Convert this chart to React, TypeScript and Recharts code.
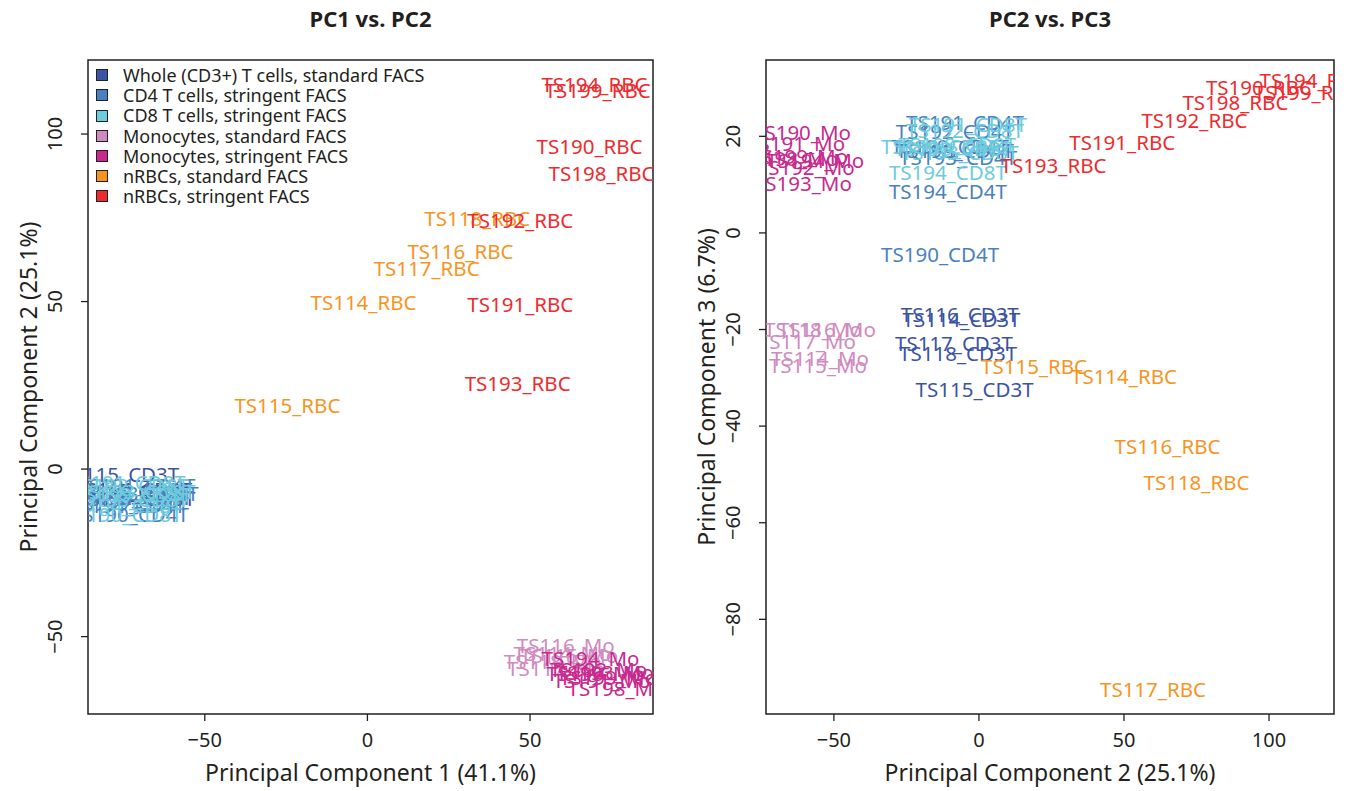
import React from 'react';
import { ScatterChart, Scatter, XAxis, YAxis, ReferenceArea, Label } from 'recharts';

const FONT = '"Noto Sans", "Open Sans", sans-serif';
const INK = '#231f20';

const groupLabels = [
  'Whole (CD3+) T cells, standard FACS',
  'CD4 T cells, stringent FACS',
  'CD8 T cells, stringent FACS',
  'Monocytes, standard FACS',
  'Monocytes, stringent FACS',
  'nRBCs, standard FACS',
  'nRBCs, stringent FACS',
];
const groupColors = ['#3a53a4', '#4a80c2', '#6ccbdd', '#d08ac0', '#c8298e', '#f7941e', '#ee2a2e'];

const sampleNames = [
  'TS114_CD3T', 'TS115_CD3T', 'TS116_CD3T', 'TS117_CD3T', 'TS118_CD3T',
  'TS190_CD4T', 'TS191_CD4T', 'TS192_CD4T', 'TS193_CD4T', 'TS194_CD4T', 'TS198_CD4T', 'TS199_CD4T',
  'TS190_CD8T', 'TS191_CD8T', 'TS192_CD8T', 'TS193_CD8T', 'TS194_CD8T', 'TS198_CD8T', 'TS199_CD8T',
  'TS114_Mo', 'TS115_Mo', 'TS116_Mo', 'TS117_Mo', 'TS118_Mo',
  'TS190_Mo', 'TS191_Mo', 'TS192_Mo', 'TS193_Mo', 'TS194_Mo', 'TS198_Mo', 'TS199_Mo',
  'TS114_RBC', 'TS115_RBC', 'TS116_RBC', 'TS117_RBC', 'TS118_RBC',
  'TS190_RBC', 'TS191_RBC', 'TS192_RBC', 'TS193_RBC', 'TS194_RBC', 'TS198_RBC', 'TS199_RBC',
];
const sampleGroups = [
  0, 0, 0, 0, 0,
  1, 1, 1, 1, 1, 1, 1,
  2, 2, 2, 2, 2, 2, 2,
  3, 3, 3, 3, 3,
  4, 4, 4, 4, 4, 4, 4,
  5, 5, 5, 5, 5,
  6, 6, 6, 6, 6, 6, 6,
];
const pc1 = [
  -72, -76, -73, -71, -72,
  -73, -71, -72, -70, -74, -72, -73,
  -75, -74, -73, -71, -75, -73, -72,
  60, 62, 61, 58, 57,
  70, 72, 71, 73, 68.6, 76.6, 74,
  -1.2, -24.6, 28.6, 18.2, 33.8,
  68.3, 47, 47, 46.2, 69.8, 72, 70.8,
];
const pc2 = [
  -6, -1.5, -6.6, -8.6, -7.2,
  -13.4, -4.8, -8.3, -7.2, -10.7, -8.3, -10,
  -13.4, -3.8, -4.8, -6.6, -10.7, -9, -7.5,
  -54.8, -55.5, -52.4, -59.3, -57.2,
  -61, -63, -59.7, -60.7, -56.4, -65.4, -62,
  50, 19, 65, 60, 75,
  96.5, 49.4, 74.3, 25.7, 115, 88.4, 113,
];
const pc3 = [
  -17.8, -32.3, -16.8, -22.8, -24.8,
  -4.3, 23.0, 21.1, 15.7, 8.7, 17.2, 18,
  18, 22.6, 21.3, 16.8, 12.6, 17.5, 18.5,
  -25.9, -27.3, -19.9, -22.4, -19.9,
  20.9, 18.6, 13.7, 10.4, 15, 15.5, 16,
  -29.6, -27.5, -44.1, -94.4, -51.5,
  30.2, 18.8, 23.4, 14.1, 31.7, 27.1, 29.2,
];

const fmt = (v: number) => (v < 0 ? `\u2212${Math.abs(v)}` : `${v}`);

const buildGroups = (xs: number[], ys: number[]) =>
  groupLabels.map((_, g) =>
    sampleNames
      .map((name, i) => ({ name, x: xs[i], y: ys[i], g: sampleGroups[i] }))
      .filter((d) => d.g === g)
  );

const NameMark = (props: any) => {
  const { cx, cy, payload, color } = props;
  return (
    <text x={cx} y={cy} textAnchor="middle" dominantBaseline="central" fill={color} fontSize={20.5} fontFamily={FONT}>
      {payload.name}
    </text>
  );
};

const YTick = (props: any) => {
  const { x, y, payload } = props;
  const tx = x - 24;
  return (
    <text x={tx} y={y} transform={`rotate(-90, ${tx}, ${y})`} textAnchor="middle" dominantBaseline="central" fill={INK} fontSize={20} fontFamily={FONT}>
      {fmt(payload.value)}
    </text>
  );
};

const Legend7 = () => (
  <div style={{ position: 'absolute', left: 96, top: 65, fontFamily: FONT, fontSize: 18, lineHeight: '20.2px', color: INK }}>
    {groupLabels.map((lab, i) => (
      <div key={lab} style={{ display: 'flex', alignItems: 'center', whiteSpace: 'nowrap' }}>
        <span style={{ display: 'inline-block', width: 10, height: 10, background: groupColors[i], border: '1px solid #222', marginRight: 15 }} />
        {lab}
      </div>
    ))}
  </div>
);

interface PanelProps {
  title: string;
  left: number;
  width: number;
  marginLeft: number;
  marginRight: number;
  xs: number[];
  ys: number[];
  xDomain: [number, number];
  yDomain: [number, number];
  xTicks: number[];
  yTicks: number[];
  xLabel: string;
  yLabel: string;
  legend?: boolean;
}

const H = 791;
const TOP = 60;
const BOTTOM = 77;

const Panel: React.FC<PanelProps> = (p) => {
  const groups = buildGroups(p.xs, p.ys);
  const plotLeft = p.marginLeft + 60;
  const plotW = p.width - plotLeft - p.marginRight;
  return (
    <div style={{ position: 'absolute', left: p.left, top: 0, width: p.width, height: H }}>
      <div
        style={{
          position: 'absolute', left: plotLeft, width: plotW, top: 5, textAlign: 'center',
          fontFamily: FONT, fontWeight: 700, fontSize: 22, lineHeight: '26px', color: INK,
        }}
      >
        {p.title}
      </div>
      <ScatterChart width={p.width} height={H} margin={{ top: TOP, right: p.marginRight, bottom: 5, left: p.marginLeft }}>
        <XAxis
          type="number" dataKey="x" domain={p.xDomain} ticks={p.xTicks} allowDataOverflow
          axisLine={false} tickSize={7} tickMargin={12} height={BOTTOM - 5}
          tickLine={{ stroke: INK, strokeWidth: 1.3 }}
          tick={{ fill: INK, fontSize: 20, fontFamily: FONT }} tickFormatter={fmt}
        >
          <Label
            content={({ viewBox }: any) => (
              <text x={viewBox.x + viewBox.width / 2} y={viewBox.y + 67} textAnchor="middle" fill={INK} fontSize={23} fontFamily={FONT}>
                {p.xLabel}
              </text>
            )}
          />
        </XAxis>
        <YAxis
          type="number" dataKey="y" domain={p.yDomain} ticks={p.yTicks} allowDataOverflow
          axisLine={false} tickSize={7} width={60}
          tickLine={{ stroke: INK, strokeWidth: 1.3 }} tick={<YTick />}
        >
          <Label
            content={({ viewBox }: any) => {
              const cx = viewBox.x;
              const cy = viewBox.y + viewBox.height / 2;
              return (
                <text x={cx} y={cy} transform={`rotate(-90, ${cx}, ${cy})`} textAnchor="middle" dominantBaseline="central" fill={INK} fontSize={23} fontFamily={FONT}>
                  {p.yLabel}
                </text>
              );
            }}
          />
        </YAxis>
        {groups.map((data, g) => (
          <Scatter
            key={g}
            data={data}
            isAnimationActive={false}
            shape={(sp: any) => <NameMark {...sp} color={groupColors[g]} />}
          />
        ))}
        <ReferenceArea
          x1={p.xDomain[0]} x2={p.xDomain[1]} y1={p.yDomain[0]} y2={p.yDomain[1]}
          fill="none" stroke={INK} strokeWidth={1.5} ifOverflow="visible"
        />
      </ScatterChart>
      {p.legend && <Legend7 />}
    </div>
  );
};

export default function App() {
  return (
    <div style={{ position: 'absolute', left: 0, top: 0, width: 1347, height: 791, background: '#fff' }}>
      <Panel
        title="PC1 vs. PC2" left={0} width={680} marginLeft={28} marginRight={27}
        xs={pc1} ys={pc2} xDomain={[-85.9, 87.8]} yDomain={[-73.1, 122.1]}
        xTicks={[-50, 0, 50]} yTicks={[-50, 0, 50, 100]}
        xLabel="Principal Component 1 (41.1%)" yLabel="Principal Component 2 (25.1%)" legend
      />
      <Panel
        title="PC2 vs. PC3" left={680} width={667} marginLeft={26} marginRight={13}
        xs={pc2} ys={pc3} xDomain={[-73.4, 122.4]} yDomain={[-99.6, 35.8]}
        xTicks={[-50, 0, 50, 100]} yTicks={[-80, -60, -40, -20, 0, 20]}
        xLabel="Principal Component 2 (25.1%)" yLabel="Principal Component 3 (6.7%)"
      />
    </div>
  );
}
